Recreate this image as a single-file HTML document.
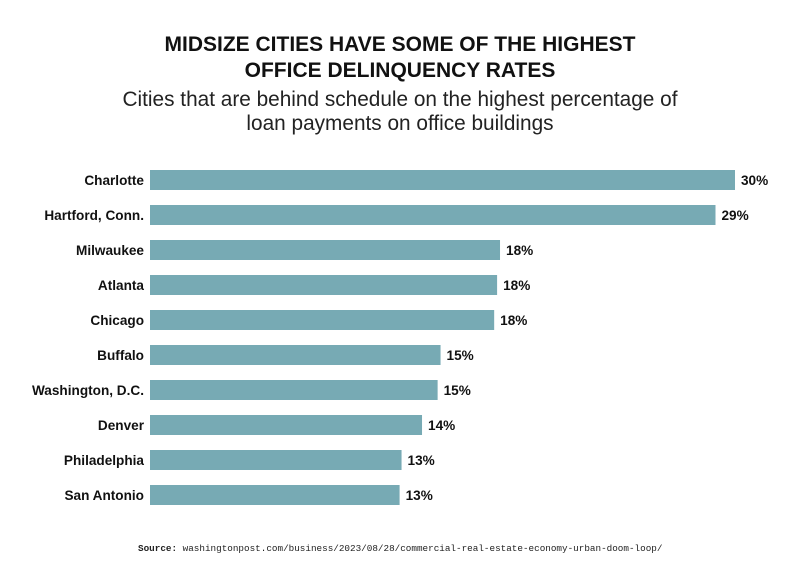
<!DOCTYPE html>
<html><head><meta charset="utf-8"><style>
body{margin:0;background:#fff;width:800px;height:575px;overflow:hidden;font-family:"Liberation Sans",sans-serif}
</style></head><body>
<svg width="800" height="575" xmlns="http://www.w3.org/2000/svg">
<text x="400" y="51" text-anchor="middle" font-size="21" font-weight="bold" fill="#111">MIDSIZE CITIES HAVE SOME OF THE HIGHEST</text>
<text x="400" y="77" text-anchor="middle" font-size="21" font-weight="bold" fill="#111">OFFICE DELINQUENCY RATES</text>
<text x="400" y="106" text-anchor="middle" font-size="20.8" fill="#222">Cities that are behind schedule on the highest percentage of</text>
<text x="400" y="130" text-anchor="middle" font-size="20.8" fill="#222">loan payments on office buildings</text>
<g id="bars"></g>
<text x="138" y="551" font-family="Liberation Mono, monospace" font-size="9.3" fill="#222"><tspan font-weight="bold">Source:</tspan> washingtonpost.com/business/2023/08/28/commercial-real-estate-economy-urban-doom-loop/</text>
</svg>
<script>
const categories=["Charlotte","Hartford, Conn.","Milwaukee","Atlanta","Chicago","Buffalo","Washington, D.C.","Denver","Philadelphia","San Antonio"];
const values=[30,29,17.95,17.8,17.65,14.9,14.75,13.95,12.9,12.8];
const labels=["30%","29%","18%","18%","18%","15%","15%","14%","13%","13%"];
const ns="http://www.w3.org/2000/svg";
const g=document.getElementById('bars');
const x=v=>150+v*19.5;
const y=i=>180+i*35;
categories.forEach((c,i)=>{
 const r=document.createElementNS(ns,'rect');
 r.setAttribute('x',150);r.setAttribute('y',y(i)-10);r.setAttribute('width',x(values[i])-150);r.setAttribute('height',20);r.setAttribute('fill','#77aab4');
 
 
 g.appendChild(r);
 const t=document.createElementNS(ns,'text');
 t.setAttribute('x',144);t.setAttribute('y',y(i)+5);t.setAttribute('text-anchor','end');t.setAttribute('font-size','13.6');t.setAttribute('font-weight','bold');t.setAttribute('fill','#111');t.textContent=c;
 
 
 g.appendChild(t);
 const v=document.createElementNS(ns,'text');
 v.setAttribute('x',x(values[i])+6);v.setAttribute('y',y(i)+5);v.setAttribute('font-size','13.6');v.setAttribute('font-weight','bold');v.setAttribute('fill','#111');v.textContent=labels[i];
 
 
 g.appendChild(v);
});
</script>
</body></html>
